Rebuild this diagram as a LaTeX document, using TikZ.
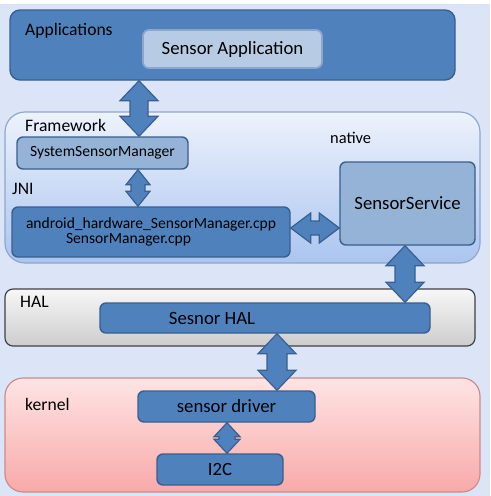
\documentclass[tikz,border=0pt]{standalone}
\usepackage{fontspec}
\setmainfont{Carlito}
\usetikzlibrary{calc}

\definecolor{bgblue}{HTML}{DBE5F7}
\definecolor{midblue}{HTML}{4F81BD}
\definecolor{darkblue}{HTML}{3A5F8E}
\definecolor{paleblue}{HTML}{95B3D7}
\definecolor{appbox}{HTML}{B8CBE5}
\definecolor{appedge}{HTML}{8CA6CC}
\definecolor{fwtop}{HTML}{EDF2FC}
\definecolor{fwbot}{HTML}{ABC5F0}
\definecolor{fwedge}{HTML}{8FA6CC}
\definecolor{haltop}{HTML}{F7F7F7}
\definecolor{halbot}{HTML}{CDCDCD}
\definecolor{kntop}{HTML}{FEE4E4}
\definecolor{knbot}{HTML}{F9A9A9}
\definecolor{knedge}{HTML}{C98C8C}

\newcommand{\pxl}{0.03cm}
\newcommand{\bigfont}{\fontsize{16}{18}\selectfont}
\newcommand{\lblfont}{\fontsize{15}{17}\selectfont}
\newcommand{\smallfont}{\fontsize{13.3}{15}\selectfont}

% block arrow, top point #1 to bottom point #2, head/shaft half width, head length
\newcommand{\vblock}[5]{%
\draw[blockarrow] (#1) -- ($(#1)+(#3,#5)$) -- ($(#1)+(#4,#5)$) -- ($(#2)+(#4,-#5)$) -- ($(#2)+(#3,-#5)$) -- (#2)
  -- ($(#2)+(-#3,-#5)$) -- ($(#2)+(-#4,-#5)$) -- ($(#1)+(-#4,#5)$) -- ($(#1)+(-#3,#5)$) -- cycle;}
% same, left point #1 to right point #2
\newcommand{\hblock}[5]{%
\draw[blockarrow] (#1) -- ($(#1)+(#5,-#3)$) -- ($(#1)+(#5,-#4)$) -- ($(#2)+(-#5,-#4)$) -- ($(#2)+(-#5,-#3)$) -- (#2)
  -- ($(#2)+(-#5,#3)$) -- ($(#2)+(-#5,#4)$) -- ($(#1)+(#5,#4)$) -- ($(#1)+(#5,#3)$) -- cycle;}

\tikzset{
  boxsize/.style 2 args={minimum width=#1*\pxl, minimum height=#2*\pxl},
  bluebox/.style={draw=darkblue, fill=midblue, line width=1.2pt, rounded corners=6*\pxl, inner sep=0pt},
  palebox/.style={draw=darkblue, fill=paleblue, line width=1.2pt, rounded corners=6*\pxl, inner sep=0pt},
  lbl/.style={font=\lblfont, inner sep=0pt, anchor=west},
  blockarrow/.style={fill=midblue, draw=darkblue, line width=1pt, line join=miter},
}

\begin{document}
\begin{tikzpicture}[x=\pxl, y=-\pxl]
\useasboundingbox (0,0) rectangle (490,496);
\fill[bgblue] (0,0) rectangle (490,496);
\fill[white] (0,0) rectangle (490,4);

% layers
\node[boxsize={475}{151}, draw=fwedge, line width=1pt, rounded corners=20*\pxl, top color=fwtop, bottom color=fwbot] (fw) at (242.5,187.5) {};
\node[boxsize={470}{57}, draw=black!75, line width=1pt, rounded corners=8*\pxl, top color=haltop, bottom color=halbot] (hal) at (240,317.5) {};
\node[boxsize={475}{114}, draw=knedge, line width=1pt, rounded corners=18*\pxl, top color=kntop, bottom color=knbot] (kn) at (242.5,435) {};

% applications
\node[bluebox, boxsize={445}{70}, rounded corners=10*\pxl] (app) at (232.5,45) {};
\node[lbl] (applbl) at (25,31) {Applications};
\node[draw=appedge, fill=appbox, line width=1.5pt, rounded corners=6*\pxl, boxsize={179}{38}, font=\bigfont] (sapp) at (232.5,49) {Sensor Application};

% framework
\node[lbl] (fwlbl) at (25,125) {Framework};
\node[palebox, boxsize={171}{32}, font=\smallfont] (ssm) at (102.5,153) {SystemSensorManager};
\node[lbl, font=\fontsize{14}{16}\selectfont] (natlbl) at (330,138) {native};
\node[lbl] (jnilbl) at (12,189) {JNI};
\node[bluebox, boxsize={278}{50}, font=\smallfont, align=left] (jni) at (151,232)
  {android\_hardware\_SensorManager.cpp\\[-2pt]\hspace*{1.2cm}SensorManager.cpp};
\node[palebox, boxsize={135}{83}, font=\bigfont] (ssrv) at (407.5,203.5) {SensorService};

% hal
\node[lbl] (hallbl) at (20,302) {HAL};
\node[bluebox, boxsize={330}{30}, label={[font=\bigfont, xshift=-53*\pxl]center:Sesnor HAL}] (shal) at (265,318) {};

% kernel
\node[lbl] (knlbl) at (25,404) {kernel};
\node[bluebox, boxsize={177}{31}, font=\bigfont] (drv) at (226.5,406.5) {sensor driver};
\node[bluebox, boxsize={126}{31}, font=\bigfont] (i2c) at (220,469.5) {I2C};

% arrows
\coordinate (xa) at (139,0);
\coordinate (xb) at (138,0);
\coordinate (yc) at (0,228);
\coordinate (xd) at (405,0);
\coordinate (xe) at (277,0);
\coordinate (xf) at (227,0);
\vblock{app.south -| xa}{ssm.north -| xa}{19}{9}{20}
\vblock{ssm.south -| xb}{jni.north -| xb}{12}{7}{15}
\hblock{jni.east |- yc}{ssrv.west |- yc}{15}{7}{20}
\vblock{ssrv.south -| xd}{shal.north -| xd}{19}{10}{20}
\vblock{shal.south -| xe}{drv.north -| xe}{19}{10}{20}
\vblock{drv.south -| xf}{i2c.north -| xf}{13}{8}{14}

\end{tikzpicture}
\end{document}
